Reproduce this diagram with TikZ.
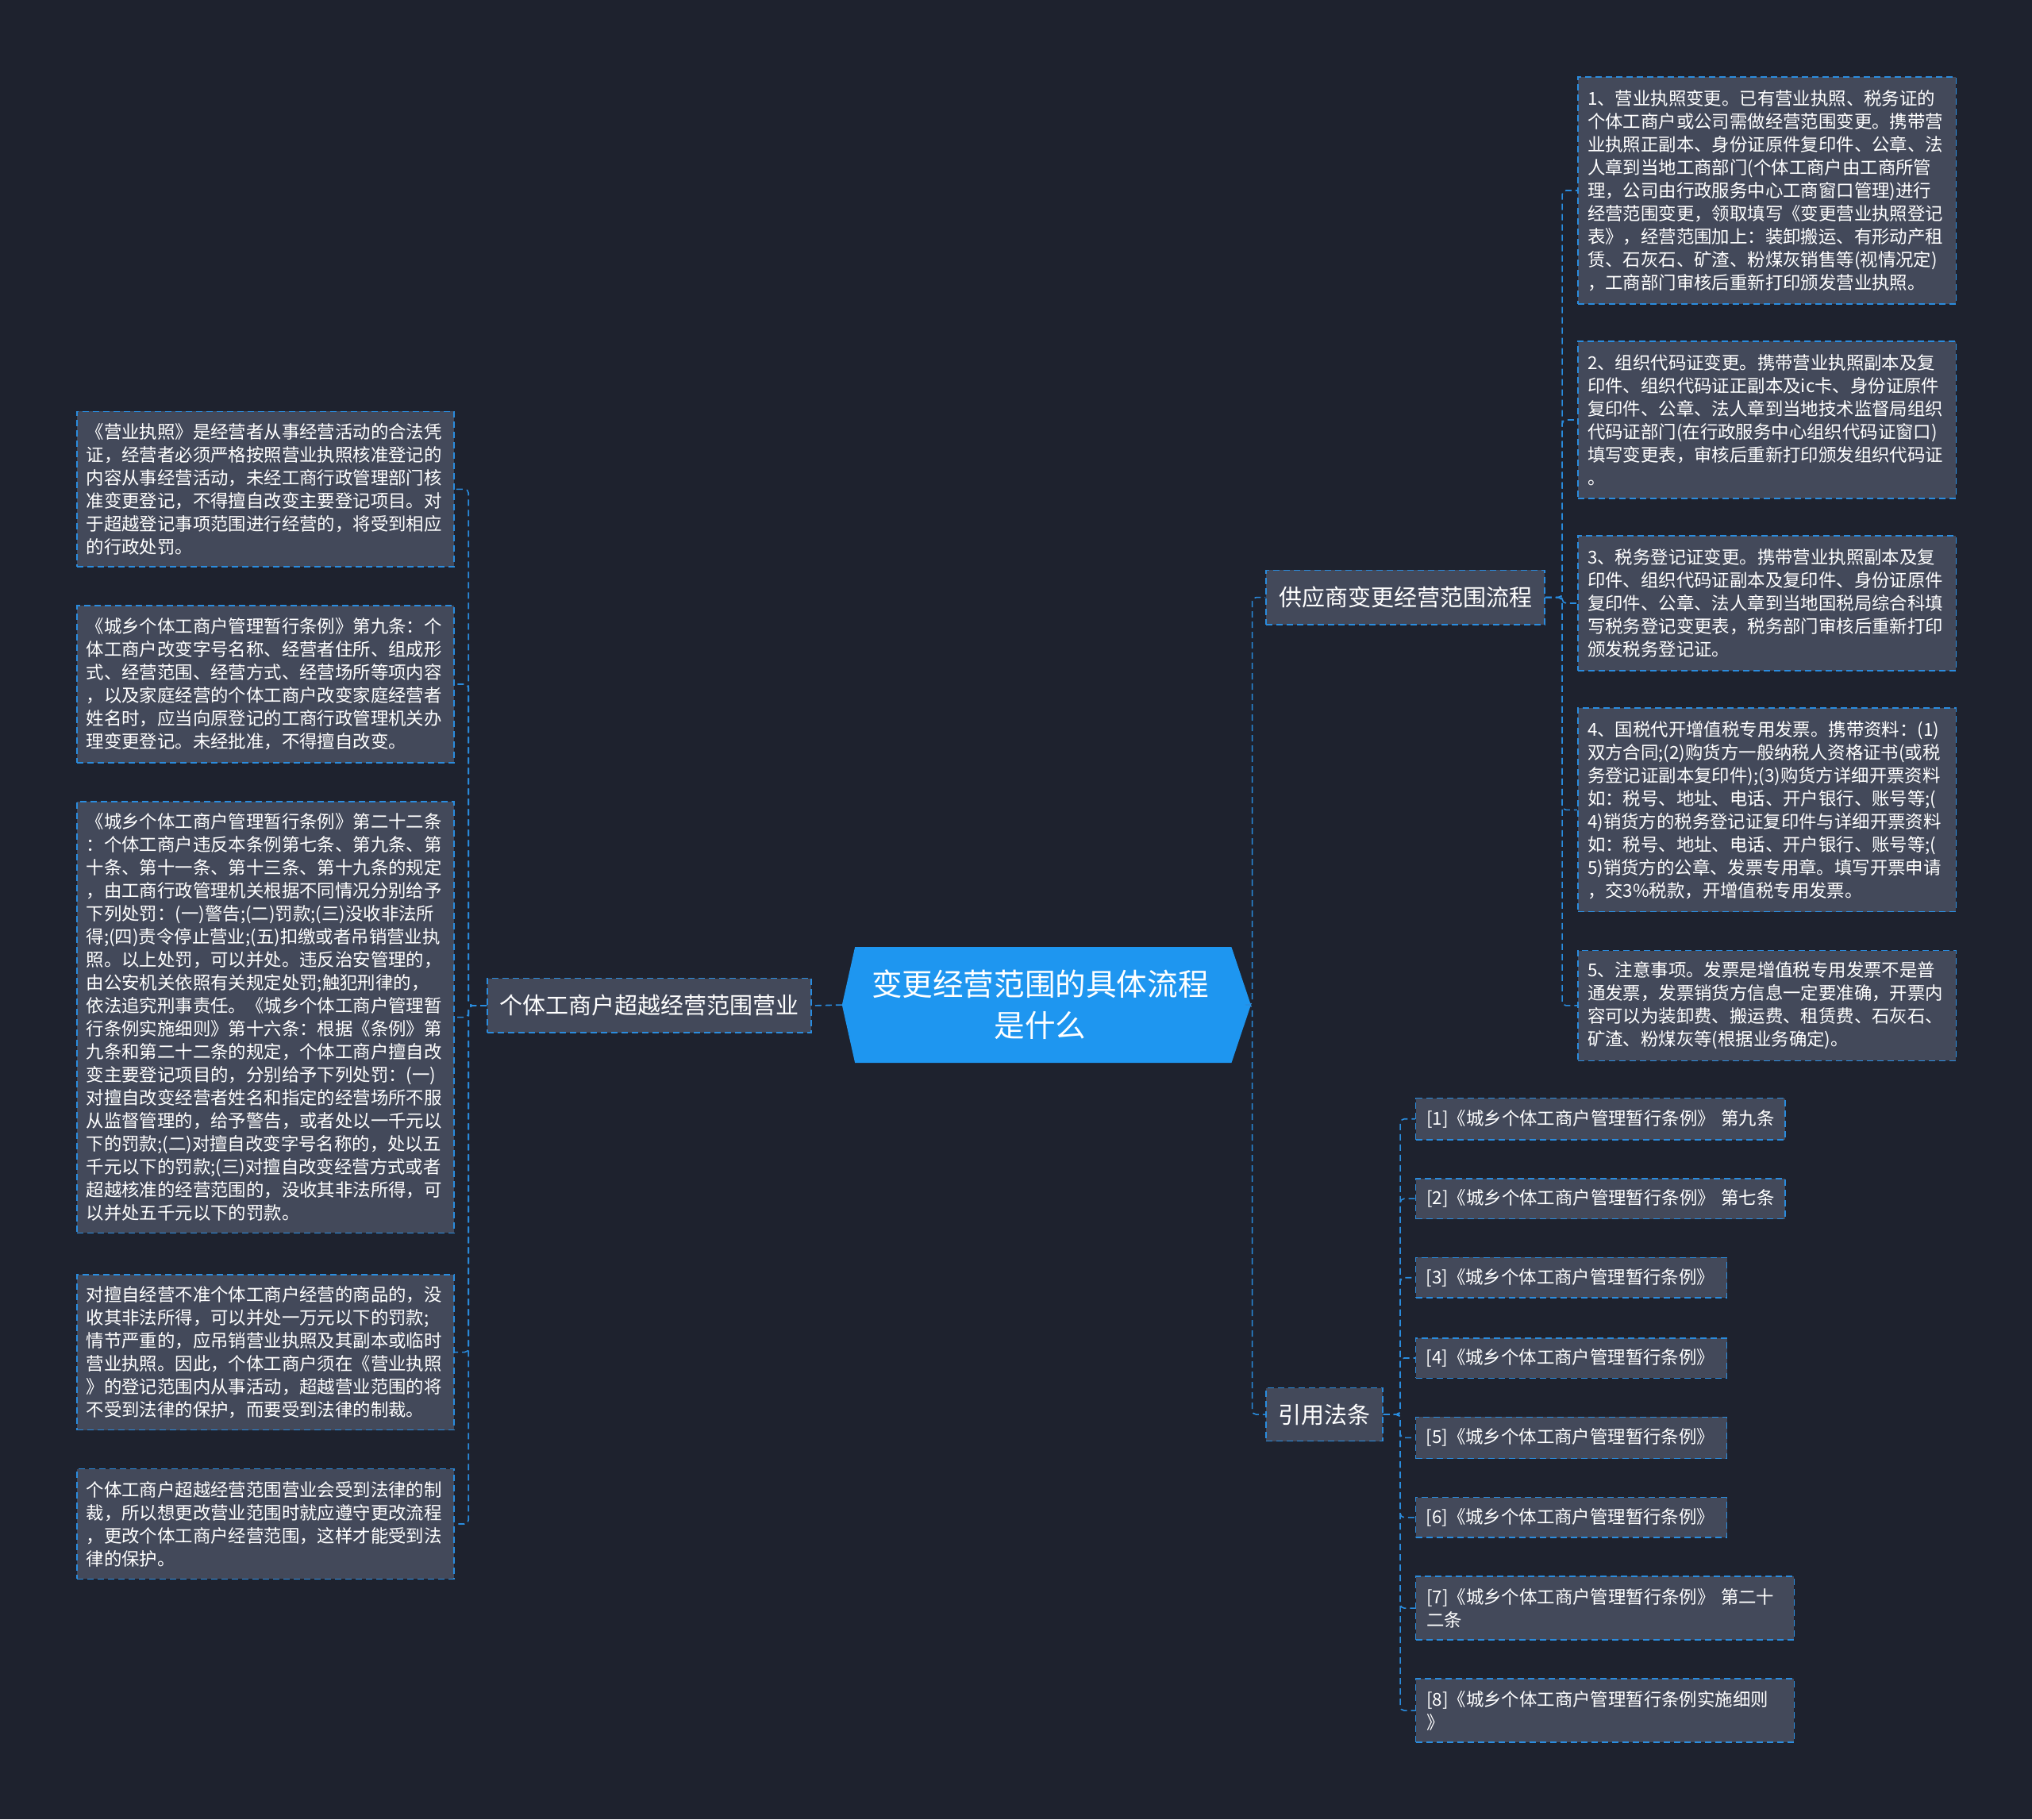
\documentclass[tikz,border=0pt]{standalone}
\usepackage{fontspec}
\newfontfamily\cjk{Noto Sans CJK SC}
\usetikzlibrary{backgrounds}
\newcommand\dpx{0.8163pt}
\definecolor{bgcol}{RGB}{30,34,46}
\definecolor{boxfill}{RGB}{67,73,90}
\definecolor{lineblue}{RGB}{42,140,222}
\definecolor{centerblue}{RGB}{30,150,240}
\tikzset{
  dashline/.style={line width=0.8pt, dash pattern=on 4pt off 2.5pt},
  conn/.style={draw=lineblue, dashline, rounded corners=2.5pt},
  leaf/.style={draw=lineblue, fill=boxfill, dashline, text=white,
    font=\cjk\fontsize{11.2}{14.5}\selectfont, align=left, anchor=north west,
    inner sep=0pt, text width=226pt},
  refbox/.style={leaf},
  branch/.style={draw=lineblue, fill=boxfill, dashline, text=white,
    font=\cjk\fontsize{14.5}{17}\selectfont, inner sep=0pt},
  ctext/.style={text=white, font=\cjk\fontsize{19.3}{26}\selectfont, align=center,
    inner sep=0pt, minimum width=315*\dpx, minimum height=89*\dpx}
}
\begin{document}
\begin{tikzpicture}[x=0.8163pt, y=-0.8163pt]
\useasboundingbox (0,0) rectangle (1568,1404);

% center
\node[ctext] (c) at (807.5,775.5) {\hspace*{-8pt}变更经营范围的具体流程\\\hspace*{-8pt}是什么};

% branches
\node[branch, minimum width=250*\dpx, minimum height=42*\dpx] (lb) at (501,776) {个体工商户超越经营范围营业};
\node[branch, minimum width=215*\dpx, minimum height=42*\dpx] (b1) at (1084.5,461) {供应商变更经营范围流程};
\node[branch, minimum width=90*\dpx, minimum height=41*\dpx] (b2) at (1022,1091.5) {引用法条};

% left leaves
\node[leaf, minimum width=291*\dpx, minimum height=120*\dpx] (L1) at (59,317) {《营业执照》是经营者从事经营活动的合法凭\\证，经营者必须严格按照营业执照核准登记的\\内容从事经营活动，未经工商行政管理部门核\\准变更登记，不得擅自改变主要登记项目。对\\于超越登记事项范围进行经营的，将受到相应\\的行政处罚。};
\node[leaf, minimum width=291*\dpx, minimum height=121*\dpx] (L2) at (59,467) {《城乡个体工商户管理暂行条例》第九条：个\\体工商户改变字号名称、经营者住所、组成形\\式、经营范围、经营方式、经营场所等项内容\\，以及家庭经营的个体工商户改变家庭经营者\\姓名时，应当向原登记的工商行政管理机关办\\理变更登记。未经批准，不得擅自改变。};
\node[leaf, minimum width=291*\dpx, minimum height=333*\dpx] (L3) at (59,618) {《城乡个体工商户管理暂行条例》第二十二条\\：个体工商户违反本条例第七条、第九条、第\\十条、第十一条、第十三条、第十九条的规定\\，由工商行政管理机关根据不同情况分别给予\\下列处罚：(一)警告;(二)罚款;(三)没收非法所\\得;(四)责令停止营业;(五)扣缴或者吊销营业执\\照。以上处罚，可以并处。违反治安管理的，\\由公安机关依照有关规定处罚;触犯刑律的，\\依法追究刑事责任。《城乡个体工商户管理暂\\行条例实施细则》第十六条：根据《条例》第\\九条和第二十二条的规定，个体工商户擅自改\\变主要登记项目的，分别给予下列处罚：(一)\\对擅自改变经营者姓名和指定的经营场所不服\\从监督管理的，给予警告，或者处以一千元以\\下的罚款;(二)对擅自改变字号名称的，处以五\\千元以下的罚款;(三)对擅自改变经营方式或者\\超越核准的经营范围的，没收其非法所得，可\\以并处五千元以下的罚款。};
\node[leaf, minimum width=291*\dpx, minimum height=120*\dpx] (L4) at (59,983) {对擅自经营不准个体工商户经营的商品的，没\\收其非法所得，可以并处一万元以下的罚款;\\情节严重的，应吊销营业执照及其副本或临时\\营业执照。因此，个体工商户须在《营业执照\\》的登记范围内从事活动，超越营业范围的将\\不受到法律的保护，而要受到法律的制裁。};
\node[leaf, minimum width=291*\dpx, minimum height=85*\dpx] (L5) at (59,1133) {个体工商户超越经营范围营业会受到法律的制\\裁，所以想更改营业范围时就应遵守更改流程\\，更改个体工商户经营范围，这样才能受到法\\律的保护。};

% right leaves
\node[leaf, minimum width=292*\dpx, minimum height=175*\dpx] (R1) at (1217,59) {1、营业执照变更。已有营业执照、税务证的\\个体工商户或公司需做经营范围变更。携带营\\业执照正副本、身份证原件复印件、公章、法\\人章到当地工商部门(个体工商户由工商所管\\理，公司由行政服务中心工商窗口管理)进行\\经营范围变更，领取填写《变更营业执照登记\\表》，经营范围加上：装卸搬运、有形动产租\\赁、石灰石、矿渣、粉煤灰销售等(视情况定)\\，工商部门审核后重新打印颁发营业执照。};
\node[leaf, minimum width=292*\dpx, minimum height=121*\dpx] (R2) at (1217,263) {2、组织代码证变更。携带营业执照副本及复\\印件、组织代码证正副本及ic卡、身份证原件\\复印件、公章、法人章到当地技术监督局组织\\代码证部门(在行政服务中心组织代码证窗口)\\填写变更表，审核后重新打印颁发组织代码证\\。};
\node[leaf, minimum width=292*\dpx, minimum height=104*\dpx] (R3) at (1217,413) {3、税务登记证变更。携带营业执照副本及复\\印件、组织代码证副本及复印件、身份证原件\\复印件、公章、法人章到当地国税局综合科填\\写税务登记变更表，税务部门审核后重新打印\\颁发税务登记证。};
\node[leaf, minimum width=292*\dpx, minimum height=157*\dpx] (R4) at (1217,546) {4、国税代开增值税专用发票。携带资料：(1)\\双方合同;(2)购货方一般纳税人资格证书(或税\\务登记证副本复印件);(3)购货方详细开票资料\\如：税号、地址、电话、开户银行、账号等;(\\4)销货方的税务登记证复印件与详细开票资料\\如：税号、地址、电话、开户银行、账号等;(\\5)销货方的公章、发票专用章。填写开票申请\\，交3\%税款，开增值税专用发票。};
\node[leaf, minimum width=292*\dpx, minimum height=85*\dpx] (R5) at (1217,733) {5、注意事项。发票是增值税专用发票不是普\\通发票，发票销货方信息一定要准确，开票内\\容可以为装卸费、搬运费、租赁费、石灰石、\\矿渣、粉煤灰等(根据业务确定)。};

% references
\node[refbox, minimum width=285*\dpx, minimum height=32*\dpx, text width=219pt] (F1) at (1092,847) {[1]《城乡个体工商户管理暂行条例》~第九条};
\node[refbox, minimum width=285*\dpx, minimum height=31*\dpx, text width=219pt] (F2) at (1092,909) {[2]《城乡个体工商户管理暂行条例》~第七条};
\node[refbox, minimum width=240*\dpx, minimum height=31*\dpx, text width=183pt] (F3) at (1092,970) {[3]《城乡个体工商户管理暂行条例》};
\node[refbox, minimum width=240*\dpx, minimum height=31*\dpx, text width=183pt] (F4) at (1092,1032) {[4]《城乡个体工商户管理暂行条例》};
\node[refbox, minimum width=240*\dpx, minimum height=32*\dpx, text width=183pt] (F5) at (1092,1093) {[5]《城乡个体工商户管理暂行条例》};
\node[refbox, minimum width=240*\dpx, minimum height=31*\dpx, text width=183pt] (F6) at (1092,1155) {[6]《城乡个体工商户管理暂行条例》};
\node[refbox, minimum width=292*\dpx, minimum height=49*\dpx, text width=225pt] (F7) at (1092,1216) {[7]《城乡个体工商户管理暂行条例》~第二十\\二条};
\node[refbox, minimum width=292*\dpx, minimum height=49*\dpx, text width=225pt] (F8) at (1092,1295) {[8]《城乡个体工商户管理暂行条例实施细则\\》};

% connectors
\draw[conn] (c.west) -- (lb.east);
\foreach \n in {L1,L2,L3,L4,L5} \draw[conn] (lb.west) -- ++(-14,0) |- (\n.east);
\draw[conn] (c.east) -- ++(1,0) |- (b1.west);
\draw[conn] (c.east) -- ++(1,0) |- (b2.west);
\foreach \n in {R1,R2,R3,R4,R5} \draw[conn] (b1.east) -- ++(13,0) |- (\n.west);
\foreach \n in {F1,F2,F3,F4,F5,F6,F7,F8} \draw[conn] (b2.east) -- ++(13,0) |- (\n.west);

\begin{scope}[on background layer]
\fill[bgcol] (0,0) rectangle (1568,1404);
\fill[centerblue] ([xshift=10*\dpx]c.north west) -- ([xshift=-15*\dpx]c.north east) -- (c.east)
  -- ([xshift=-15*\dpx]c.south east) -- ([xshift=10*\dpx]c.south west) -- (c.west) -- cycle;
\end{scope}
\end{tikzpicture}
\end{document}
